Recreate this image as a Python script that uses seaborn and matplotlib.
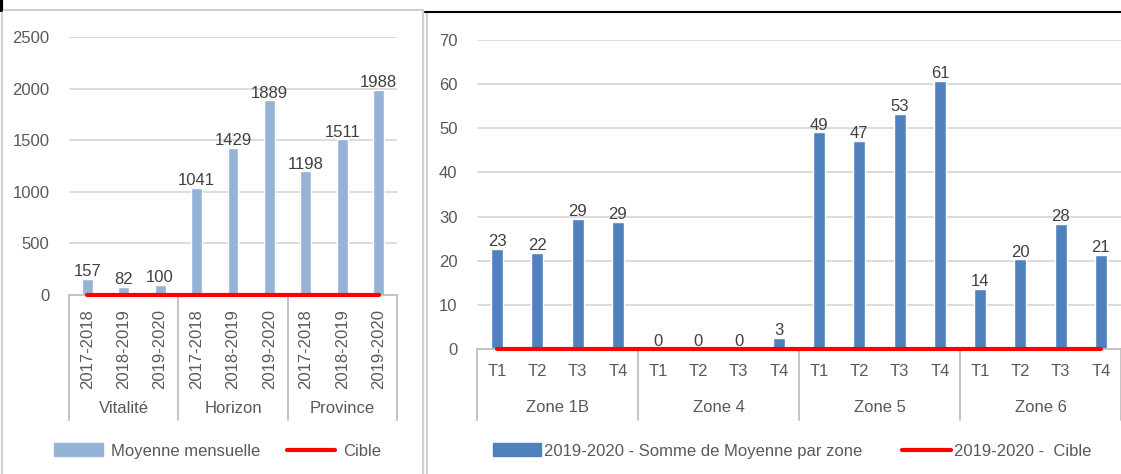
import numpy as np
import pandas as pd
import seaborn as sns
import matplotlib.pyplot as plt
from matplotlib.lines import Line2D
from matplotlib.patches import Patch

# left chart data
groups_left = ["Vitalité", "Horizon", "Province"]
years = ["2017-2018", "2018-2019", "2019-2020"]
moyenne = [157, 82, 100, 1041, 1429, 1889, 1198, 1511, 1988]
cible_left = [0, 0, 0, 0, 0, 0, 0, 0, 0]

# right chart data
zones = ["Zone 1B", "Zone 4", "Zone 5", "Zone 6"]
quarters = ["T1", "T2", "T3", "T4"]
somme = [22.7, 21.7, 29.4, 28.8, 0, 0, 0, 2.6, 49.1, 47.1, 53.3, 60.7, 13.7, 20.3, 28.3, 21.3]
cible_right = [0] * 16

sns.set_theme(style="white")
plt.rcParams['font.family'] = ['Liberation Sans Narrow', 'Liberation Sans', 'DejaVu Sans']

TXT = "#595959"
GRID = "#D9D9D9"
AXIS = "#BFBFBF"
FS = 12

W, H = 1121, 474
fig = plt.figure(figsize=(W / 100, H / 100), dpi=100)


def px_axes(x0, x1, ytop, ybot):
    return fig.add_axes([x0 / W, 1 - ybot / H, (x1 - x0) / W, (ybot - ytop) / H])


def draw_panel(ax, groups, subs, values, cible, color, ymax, ystep, sep_depth, label_fmt):
    keys = [f"{g}|{s}" for g in groups for s in subs]
    df = pd.DataFrame({"key": keys, "val": values})
    sns.barplot(data=df, x="key", y="val", color=color, width=0.3,
                saturation=1, ax=ax, order=keys)
    n = len(keys)
    ax.bar_label(ax.containers[0], labels=[label_fmt(v) for v in values],
                 padding=6, fontsize=FS, color="#404040")
    sns.lineplot(x=np.arange(n), y=cible, color="#FF0000", linewidth=3, ax=ax)
    for ln in ax.lines:
        ln.set_clip_on(False)
        ln.set_zorder(5)
    ax.set_xlim(-0.5, n - 0.5)
    ax.set_ylim(0, ymax)
    ax.set_yticks(np.arange(0, ymax + 1, ystep))
    ax.yaxis.grid(True, color=GRID, linewidth=1.3)
    ax.set_axisbelow(True)
    for s in ["top", "right", "left"]:
        ax.spines[s].set_visible(False)
    ax.spines["bottom"].set_color(AXIS)
    ax.spines["bottom"].set_linewidth(1.3)
    ax.set_xlabel("")
    ax.set_ylabel("")
    ax.tick_params(axis="y", length=0, labelsize=FS, labelcolor=TXT, pad=14)
    ax.tick_params(axis="x", length=0, labelcolor=TXT, labelsize=FS)
    # group separators and labels
    k = len(subs)
    for i in range(len(groups) + 1):
        ax.add_artist(Line2D([i * k - 0.5] * 2, [0, sep_depth], transform=ax.get_xaxis_transform(),
                             color=AXIS, linewidth=1.3, clip_on=False))
    for i, g in enumerate(groups):
        ax.text(i * k + (k - 1) / 2, 0, g, transform=ax.get_xaxis_transform(),
                ha="center", va="center", fontsize=FS, color=TXT)
    return ax


# left panel
axl = px_axes(69, 397, 37, 295)
draw_panel(axl, groups_left, years, moyenne, cible_left, "#95B3D7", 2500, 500,
           -0.484, lambda v: f"{v:.0f}")
axl.set_xticks(range(9))
axl.set_xticklabels(years * 3, rotation=90)
axl.tick_params(axis="x", pad=10)
for t in axl.texts:
    t.set_y(-0.44)

# right panel
axr = px_axes(477, 1121, 40, 349)
draw_panel(axr, zones, quarters, somme, cible_right, "#4F81BD", 70, 10,
           -0.23, lambda v: f"{v:.0f}")
axr.set_xticks(range(16))
axr.set_xticklabels(quarters * 4)
axr.tick_params(axis="x", pad=11)
for t in axr.texts:
    t.set_y(-0.19)

# legends
axl.legend(handles=[Patch(color="#95B3D7", label="Moyenne mensuelle"),
                    Line2D([], [], color="#FF0000", linewidth=3, label="Cible")],
           loc="center", bbox_to_anchor=(218 / W, 1 - 451 / H),
           bbox_transform=fig.transFigure, ncol=2, frameon=False, fontsize=FS,
           handlelength=2.9, handleheight=0.8, handletextpad=0.5, columnspacing=1.6,
           labelcolor=TXT)
axr.legend(handles=[Patch(color="#4F81BD", label="2019-2020 - Somme de Moyenne par zone"),
                    Line2D([], [], color="#FF0000", linewidth=3, label="2019-2020 -  Cible")],
           loc="center", bbox_to_anchor=(792 / W, 1 - 451 / H),
           bbox_transform=fig.transFigure, ncol=2, frameon=False, fontsize=FS,
           handlelength=2.9, handleheight=0.8, handletextpad=0.2, columnspacing=2.4,
           labelcolor=TXT)

# chart frames from the screenshot
def fline(xs, ys, color, lw):
    fig.add_artist(Line2D([x / W for x in xs], [1 - y / H for y in ys],
                          color=color, linewidth=lw))

fline([2, 2], [10, 474], "#D0D0D0", 1.5)
fline([2, 423], [10, 10], "#D0D0D0", 1.5)
fline([423, 423], [10, 474], "#D0D0D0", 1.5)
fline([427, 427], [12, 474], "#D0D0D0", 1.5)
fline([425, 1121], [12, 12], "#000000", 1.5)
fline([1.5, 1.5], [0, 10], "#000000", 3)

fig.savefig("out.png", dpi=100)
